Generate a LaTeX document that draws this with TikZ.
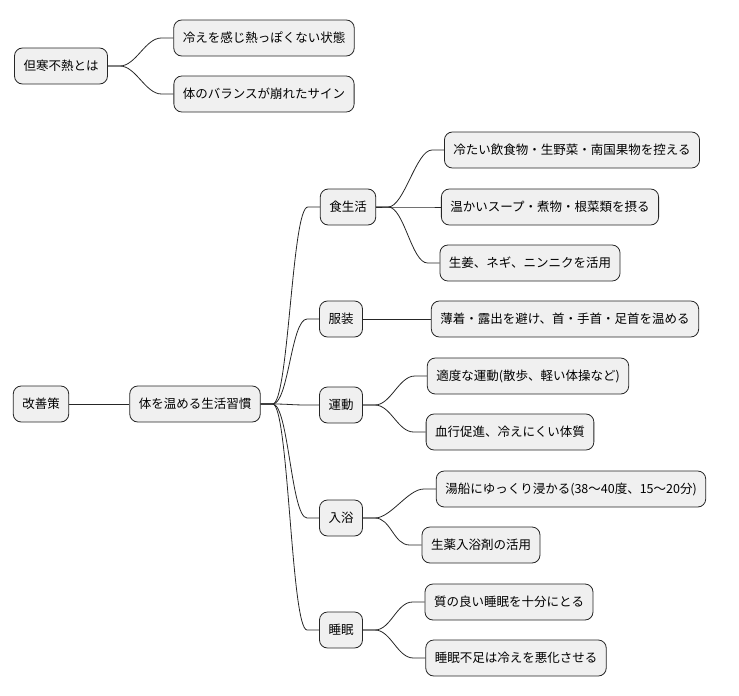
\documentclass[tikz,border=0pt]{standalone}
\usepackage{fontspec}
\setmainfont{Noto Sans CJK JP}
\begin{document}
\begin{tikzpicture}[x=1pt,y=-1pt,
  box/.style={draw=black!85,fill=black!6,rounded corners=8pt,line width=0.8pt,minimum height=36pt,inner xsep=9pt,font=\fontsize{12.5}{15}\selectfont},
  ln/.style={draw=black!85,line width=0.8pt}]
\useasboundingbox (0,0) rectangle (739,696);
\newcommand\conn[2]{\draw[ln] (#1.east) -- ++(12,0) .. controls +(16,0) and +(-16,0) .. ([xshift=-12pt]#2.west) -- (#2.west);}
\node[box] (a) at (61,66) {但寒不熱とは};
\node[box] (a1) at (264,38) {冷えを感じ熱っぽくない状態};
\node[box] (a2) at (264,94) {体のバランスが崩れたサイン};
\node[box] (r) at (41,404) {改善策};
\node[box] (h) at (195,404) {体を温める生活習慣};
\node[box] (s) at (348,207) {食生活};
\node[box] (s1) at (572,150) {冷たい飲食物・生野菜・南国果物を控える};
\node[box] (s2) at (550,207) {温かいスープ・煮物・根菜類を摂る};
\node[box] (s3) at (530,263) {生姜、ネギ、ニンニクを活用};
\node[box] (f) at (341,319) {服装};
\node[box] (f1) at (565,319) {薄着・露出を避け、首・手首・足首を温める};
\node[box] (u) at (341,405) {運動};
\node[box] (u1) at (528,376) {適度な運動(散歩、軽い体操など)};
\node[box] (u2) at (510,432) {血行促進、冷えにくい体質};
\node[box] (b) at (341,518) {入浴};
\node[box] (b1) at (571,489) {湯船にゆっくり浸かる(38〜40度、15〜20分)};
\node[box] (b2) at (481,545) {生薬入浴剤の活用};
\node[box] (z) at (341,630) {睡眠};
\node[box] (z1) at (509,602) {質の良い睡眠を十分にとる};
\node[box] (z2) at (516,658) {睡眠不足は冷えを悪化させる};
\conn{a}{a1}\conn{a}{a2}
\draw[ln] (r.east) -- (h.west);
\conn{h}{s}\conn{h}{f}\conn{h}{u}\conn{h}{b}\conn{h}{z}
\conn{s}{s1}\conn{s}{s2}\conn{s}{s3}
\draw[ln] (f.east) -- (f1.west);
\conn{u}{u1}\conn{u}{u2}\conn{b}{b1}\conn{b}{b2}\conn{z}{z1}\conn{z}{z2}
\end{tikzpicture}
\end{document}
